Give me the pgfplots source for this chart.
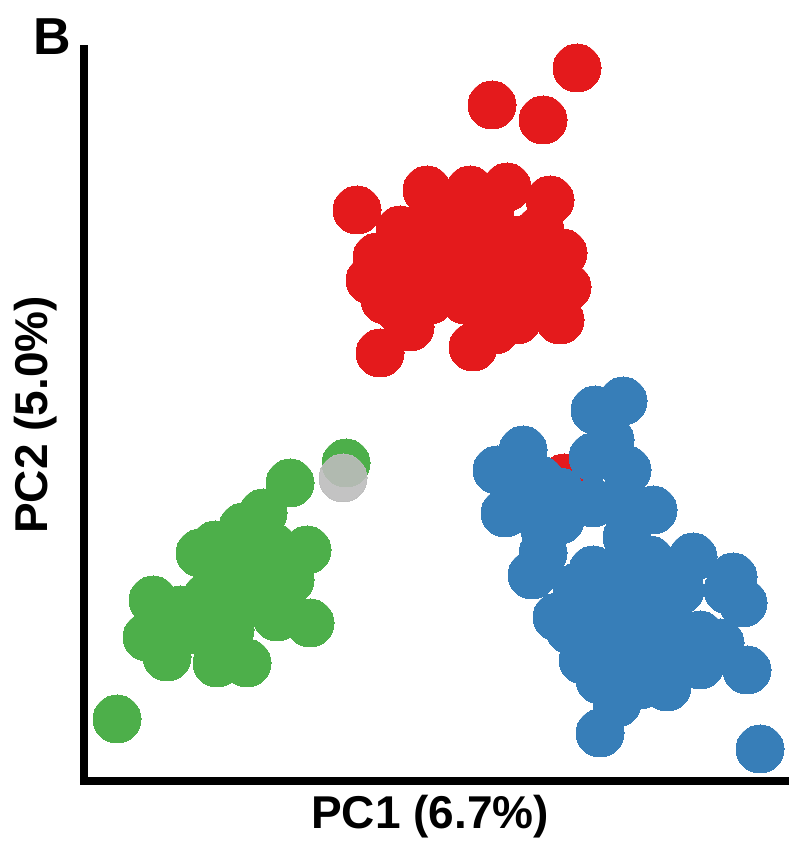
\documentclass[border=0pt]{standalone}
\usepackage{pgfplots}
\pgfplotsset{compat=1.18}
\usepackage{fontspec}
\setmainfont{Liberation Sans}
\definecolor{cred}{HTML}{E41A1C}
\definecolor{cgreen}{HTML}{4DAF4A}
\definecolor{cblue}{HTML}{377EB8}
\definecolor{cgray}{RGB}{188,188,188}
\begin{document}
\begin{tikzpicture}
\useasboundingbox (0,0) rectangle (394pt,424.5pt);
\node[font=\fontsize{26}{30}\selectfont\bfseries] at (26.25pt,406.25pt) {B};
\begin{axis}[
  at={(41.75pt,34pt)}, anchor=south west,
  scale only axis, width=352.25pt, height=366pt,
  xmin=83.5, xmax=788, ymin=-781, ymax=-49,
  axis x line=bottom, axis y line=left,
  axis line style={-, line width=4pt, line cap=rect, black},
  xtick=\empty, ytick=\empty,
  clip=false,
  xlabel={PC1 (6.7\%)},
  ylabel={PC2 (5.0\%)},
  xlabel style={at={(axis description cs:0.492,0)}, anchor=center, yshift=-18pt, font=\fontsize{23}{27}\selectfont\bfseries},
  ylabel style={at={(axis description cs:-0.0674,0.5)}, anchor=center, font=\fontsize{23}{27}\selectfont\bfseries},
]
\addplot[cred, only marks, mark=*, mark size=12pt, mark options={draw=cred, fill=cred, line width=0pt}] coordinates {
(577,-68) (492,-105) (543,-120) (357,-210) (427,-190) (470,-190) (507,-187) (550,-200)
(563,-253) (567,-287) (560,-320) (380,-353) (410,-327) (473,-347) (517,-320) (377,-257)
(370,-280) (400,-230) (430,-250) (460,-230) (490,-230) (520,-240) (540,-230) (450,-280)
(480,-270) (510,-280) (420,-290) (400,-310) (430,-300) (465,-300) (500,-300) (530,-300)
(395,-260) (460,-210) (490,-210) (535,-270) (440,-215) (510,-255) (470,-255) (410,-270)
(545,-250) (385,-300) (495,-330) (564,-478)
};
\addplot[cgreen, only marks, mark=*, mark size=12pt, mark options={draw=cgreen, fill=cgreen, line width=0pt}] coordinates {
(117,-719) (346,-463) (290,-483) (243,-527) (200,-553) (307,-550) (153,-600) (147,-637)
(167,-657) (217,-663) (247,-663) (310,-623) (277,-617) (223,-580) (257,-580) (273,-547)
(190,-630) (230,-630) (207,-597) (263,-513) (290,-580) (240,-600) (180,-610) (250,-550)
(215,-545)
};
\addplot[cgray, only marks, mark=*, mark size=12pt, mark options={draw=cgray, fill=cgray, line width=0pt, opacity=0.9}] coordinates {
(343,-478)
};
\addplot[cblue, only marks, mark=*, mark size=12pt, mark options={draw=cblue, fill=cblue, line width=0pt}] coordinates {
(595,-410) (623,-401) (523,-450) (497,-470) (505,-513) (532,-575) (593,-457) (627,-470)
(653,-510) (693,-557) (733,-577) (743,-603) (720,-643) (747,-670) (760,-749) (600,-733)
(617,-703) (583,-660) (557,-617) (667,-687) (660,-653) (560,-520) (593,-503) (627,-537)
(593,-570) (660,-587) (627,-620) (593,-620) (677,-630) (637,-653) (543,-553) (577,-587)
(610,-440) (560,-492) (540,-480) (728,-590) (680,-590) (700,-635) (530,-510) (520,-480)
(545,-530) (615,-580) (640,-600) (610,-650) (650,-560) (620,-500) (650,-620) (600,-680)
(570,-630) (640,-685) (700,-665)
};
\end{axis}
\end{tikzpicture}
\end{document}
